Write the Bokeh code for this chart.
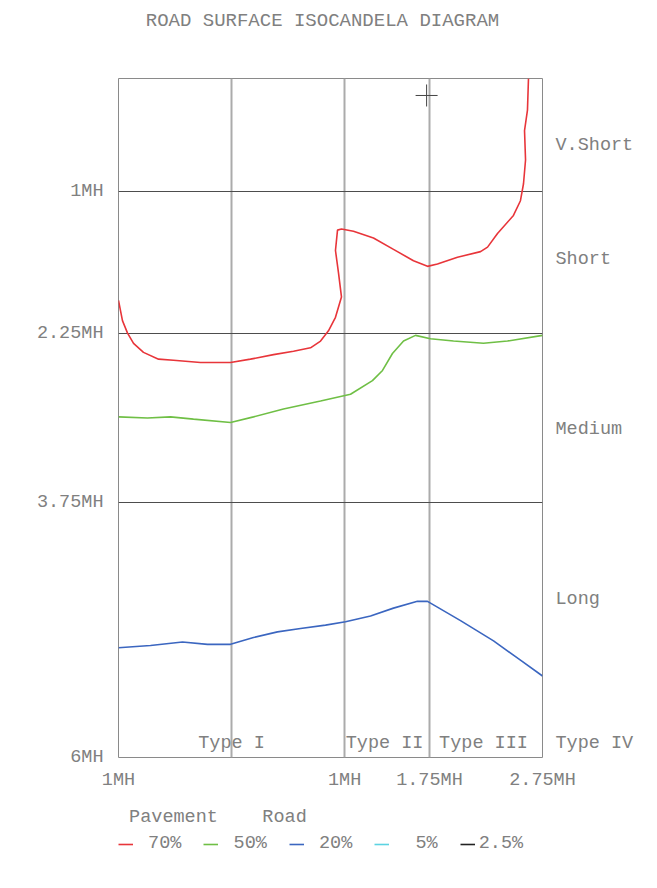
from bokeh.plotting import figure
from bokeh.layouts import column
from bokeh.models import (Range1d, FixedTicker, LinearAxis, Legend, LegendItem)
from bokeh.core.properties import value
from bokeh.embed import file_html
from bokeh.resources import INLINE

# ---- data (units of mounting height, MH) ----
red_x = [-1.000, -0.965, -0.920, -0.867, -0.779, -0.646, -0.514, -0.275, -0.009, 0.167,
         0.371, 0.548, 0.698, 0.787, 0.857, 0.919, 0.972, 0.946, 0.919, 0.937,
         0.972, 1.078, 1.255, 1.432, 1.609, 1.733, 1.821, 1.998, 2.202, 2.264,
         2.352, 2.493, 2.555, 2.582, 2.600, 2.591, 2.617, 2.626]
red_y = [1.96, 2.14, 2.25, 2.34, 2.42, 2.48, 2.49, 2.51, 2.51, 2.48,
         2.44, 2.41, 2.38, 2.32, 2.23, 2.11, 1.93, 1.72, 1.52, 1.34,
         1.33, 1.35, 1.41, 1.51, 1.61, 1.66, 1.64, 1.58, 1.53, 1.49,
         1.37, 1.21, 1.08, 0.93, 0.72, 0.46, 0.28, 0.00]

green_x = [-1.000, -0.744, -0.540, -0.337, -0.009, 0.194, 0.459, 0.787, 1.052, 1.246,
           1.335, 1.423, 1.521, 1.627, 1.759, 1.963, 2.228, 2.440, 2.750]
green_y = [2.99, 3.00, 2.99, 3.01, 3.04, 2.99, 2.92, 2.85, 2.79, 2.67,
           2.58, 2.43, 2.32, 2.27, 2.30, 2.32, 2.34, 2.32, 2.27]

blue_x = [-1.000, -0.717, -0.434, -0.213, -0.009, 0.194, 0.406, 0.610, 0.831, 1.008,
          1.229, 1.432, 1.644, 1.733, 2.025, 2.317, 2.555, 2.750]
blue_y = [5.03, 5.01, 4.98, 5.00, 5.00, 4.94, 4.89, 4.86, 4.83, 4.80,
          4.75, 4.68, 4.62, 4.62, 4.79, 4.97, 5.14, 5.28]

series_labels = ["\u00a070%", "\u00a050%", "\u00a020%", "\u00a0\u00a05%", "2.5%"]
series_colors = ["#e8353a", "#6fbf45", "#3b66c0", "#5cd3e2", "#222222"]

x_ticks = [-1, 1, 1.75, 2.75]
x_tick_labels = ["1MH", "1MH", "1.75MH", "2.75MH"]
y_ticks = [1, 2.25, 3.75, 6]
y_tick_labels = ["1MH", "2.25MH", "3.75MH", "6MH"]
x_grid = [-1, 0, 1, 1.75]
y_grid = [0, 1, 2.25, 3.75]

right_ticks = [0.59, 1.60, 3.10, 4.60, 5.88]
right_labels = ["V.Short", "Short", "Medium", "Long", "Type IV"]

type_x = [0.0, 1.353, 2.228]
type_y = [5.88, 5.88, 5.88]
type_labels = ["Type I", "Type II", "Type III"]

cross_x = [1.725]
cross_y = [0.15]

TITLE = "ROAD SURFACE ISOCANDELA DIAGRAM"
legend_title = "\u00a0Pavement\u00a0\u00a0\u00a0\u00a0Road"

FONT = "Liberation Mono"
FS = "18.5px"
TXT = "#808080"

p = figure(frame_width=424, frame_height=679,
           x_range=Range1d(-1, 2.75), y_range=Range1d(6, 0),
           output_backend="svg", toolbar_location=None,
           min_border_left=118, min_border_right=110,
           min_border_top=78, min_border_bottom=33,
           background_fill_color="white", border_fill_color="white")

p.outline_line_color = "#8a8a8a"
p.outline_line_width = 1

# grids
p.xgrid.ticker = FixedTicker(ticks=x_grid)
p.xgrid.grid_line_color = "#ababab"
p.xgrid.grid_line_width = 2
p.ygrid.ticker = FixedTicker(ticks=y_grid)
p.ygrid.grid_line_color = "#4d4d4d"
p.ygrid.grid_line_width = 1

def style_axis(ax, standoff, size=FS):
    ax.axis_line_color = None
    ax.major_tick_line_color = None
    ax.minor_tick_line_color = None
    ax.major_tick_out = 0
    ax.major_tick_in = 0
    ax.minor_tick_out = 0
    ax.minor_tick_in = 0
    ax.major_label_text_font = FONT
    ax.major_label_text_font_size = size
    ax.major_label_text_color = TXT
    ax.major_label_standoff = standoff

p.xaxis.ticker = FixedTicker(ticks=x_ticks)
p.xaxis.major_label_overrides = {t: l for t, l in zip(x_ticks, x_tick_labels)}
style_axis(p.xaxis[0], 12)

p.yaxis.ticker = FixedTicker(ticks=y_ticks)
p.yaxis.major_label_overrides = {t: l for t, l in zip(y_ticks, y_tick_labels)}
style_axis(p.yaxis[0], 15)

rax = LinearAxis(ticker=FixedTicker(ticks=right_ticks))
rax.major_label_overrides = {t: l for t, l in zip(right_ticks, right_labels)}
style_axis(rax, 13)
p.add_layout(rax, "right")

# chart title, drawn as the single label of a top axis
title_pos = 0.804
tax = LinearAxis(ticker=FixedTicker(ticks=[title_pos]))
tax.major_label_overrides = {title_pos: TITLE}
style_axis(tax, 47, "19px")
p.add_layout(tax, "above")

# curves
p.line(red_x, red_y, line_color=series_colors[0], line_width=1.6)
p.line(green_x, green_y, line_color=series_colors[1], line_width=1.6)
p.line(blue_x, blue_y, line_color=series_colors[2], line_width=1.6)

p.text(x=type_x, y=type_y, text=type_labels, text_font=value(FONT),
       text_font_size=FS, text_color=TXT, text_align="center",
       text_baseline="middle")

p.scatter(cross_x, cross_y, marker="cross", size=22, line_color="#444444",
          line_width=1)

# legend strip below the chart (its frame is aligned with the chart's frame)
p2 = figure(width=652, height=68, x_range=Range1d(0, 1), y_range=Range1d(0, 1),
            output_backend="svg", toolbar_location=None, min_border=0,
            border_fill_color="white", background_fill_color="white")
p2.axis.visible = False
p2.grid.visible = False
p2.outline_line_color = None
nan = float("nan")
leg_renderers = [p2.line([nan], [nan], line_color=c, line_width=1.6)
                 for c in series_colors]

legend = Legend(items=[LegendItem(label=l, renderers=[r]) for l, r in
                       zip(series_labels, leg_renderers)],
                orientation="horizontal", location=(0, 7))
legend.title = legend_title
legend.title_text_font = FONT
legend.title_text_font_size = FS
legend.title_text_font_style = "normal"
legend.title_text_color = TXT
legend.title_standoff = 5
legend.label_text_font = FONT
legend.label_text_font_size = FS
legend.label_text_color = TXT
legend.glyph_width = 15
legend.glyph_height = 20
legend.label_standoff = 4
legend.spacing = 22
legend.padding = 4
legend.margin = 0
legend.border_line_color = None
legend.background_fill_alpha = 0
p2.add_layout(legend, "center")

open("out.html", "w").write(file_html(column(p, p2, spacing=0), INLINE))
